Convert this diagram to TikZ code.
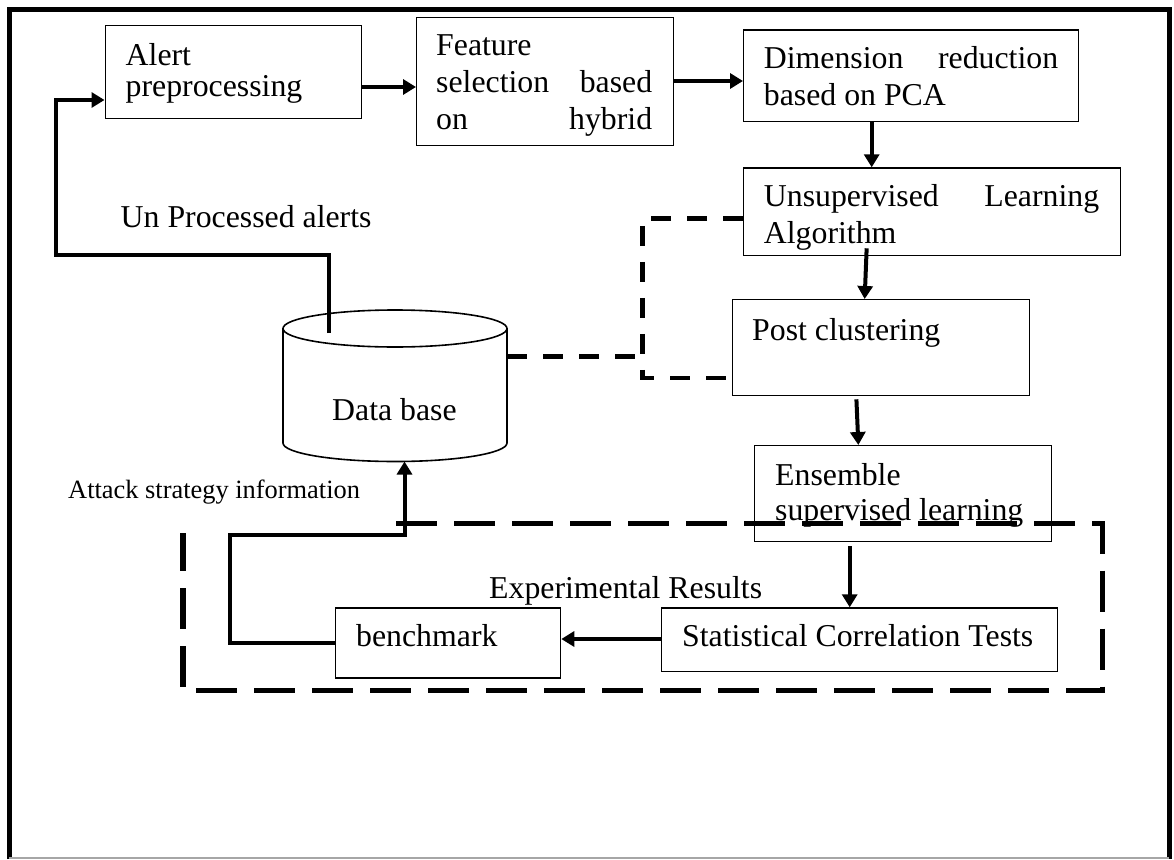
\documentclass[tikz,border=0pt]{standalone}
\usepackage{fontspec}
\setmainfont{Liberation Serif}
\usetikzlibrary{arrows.meta,calc}
\begin{document}
\begin{tikzpicture}[x=1pt,y=-1pt,
  box/.style={draw,line width=1.3pt,rectangle,inner sep=0pt,anchor=north west},
  txt/.style={inner sep=0pt,anchor=base west,font=\fontsize{31.8pt}{36pt}\selectfont},
  smalltxt/.style={inner sep=0pt,anchor=base west,font=\fontsize{26.4pt}{30pt}\selectfont},
  conn/.style={line width=4pt,-{Triangle[length=13pt,width=15pt]}},
  plainconn/.style={line width=4pt},
  smalldash/.style={line width=4.5pt,dash pattern=on 20pt off 16pt},
  bigdash/.style={line width=5.5pt,dash pattern=on 41pt off 17pt}]
\useasboundingbox (0,0) rectangle (1174,859);
\fill[white] (0,0) rectangle (1174,859);
% frame
\draw[line width=5pt] (9,859) -- (9,10) -- (1169,10) -- (1169,859);
\draw[gray!70,line width=1.2pt] (9,858) -- (1169,858);
% boxes
\node[box,minimum width=256.5pt,minimum height=93pt] (alert) at (104.5,25) {};
\node[box,minimum width=256.8pt,minimum height=128.3pt] (feat) at (416,16.7) {};
\node[box,minimum width=335pt,minimum height=91.4pt] (dim) at (743,29.3) {};
\node[box,minimum width=377pt,minimum height=87.7pt] (unsup) at (743,167.3) {};
\node[box,minimum width=297.5pt,minimum height=96pt] (post) at (731.5,299) {};
\node[box,minimum width=297pt,minimum height=96pt] (ens) at (754,445) {};
\node[box,minimum width=395.5pt,minimum height=63.4pt] (stat) at (661,607.3) {};
\node[box,minimum width=225pt,minimum height=70pt] (bench) at (335,607.3) {};
% database cylinder
\draw[line width=1.6pt,fill=white] (283,328.5) -- (283,443) arc (180:360:112pt and 18.5pt) -- (507,328.5);
\draw[line width=1.6pt] (395,328.5) ellipse (112pt and 18.5pt);
\coordinate (dbin) at (329,333);
\coordinate (dbbot) at (404.5,461.5);
\coordinate (dbr) at (507,356.7);
% texts
\node[txt] (tA1) at (125.5,65) {Alert};
\node[txt] (tA2) at (125.5,96.7) {preprocessing};
\node[txt] (tF1) at (436,56) {Feature};
\node[txt] (tF2) at (436,92.7) {\makebox[216pt][s]{selection based}};
\node[txt] (tF3) at (436,129) {\makebox[216pt][s]{on hybrid}};
\node[txt] (tD1) at (763.7,68) {\makebox[294.3pt][s]{Dimension reduction}};
\node[txt] (tD2) at (763.7,105) {based on PCA};
\node[txt] (tU1) at (763.7,206.7) {\makebox[335.3pt][s]{Unsupervised Learning}};
\node[txt] (tU2) at (763.7,243) {Algorithm};
\node[txt] (tP) at (752,340) {Post clustering};
\node[txt] (tE1) at (775,485) {Ensemble};
\node[txt] (tE2) at (775,520) {supervised learning};
\node[txt] (tS) at (682,646.7) {Statistical Correlation Tests};
\node[txt] (tB) at (356,646.7) {benchmark};
\node[txt] (tUn) at (120.5,227) {Un Processed alerts};
\node[txt] (tDB) at (332,420) {Data base};
\node[smalltxt] (tAtt) at (68,498.3) {Attack strategy information};
\node[txt] (tEx) at (489,598) {Experimental Results};
% connectors
\coordinate (a1) at (55.5,255);
\draw[conn] (dbin) |- (a1) |- (alert.west |- 0,100);
\draw[conn] (alert.east |- 0,87) -- (feat.west |- 0,87);
\draw[conn] (feat.east |- 0,81) -- (dim.west |- 0,81);
\draw[conn] (dim.south -| 871.7,0) -- (unsup.north -| 871.7,0);
\draw[conn] ($(unsup.south)+(-65.5,-8)$) -- ($(post.north)+(-16.25,0)$);
\draw[conn] ($(post.south)+(-24.5,3)$) -- ($(ens.north)+(-44.8,0)$);
\draw[conn] ($(ens.south -| 849.7,0)+(0,4)$) -- (stat.north -| 849.7,0);
\draw[conn] (stat.west |- 0,639) -- (bench.east |- 0,639);
\coordinate (b1) at (229.6,535);
\draw[conn] (bench.west |- 0,643.3) -| (b1) -| (dbbot);
% dashed links
\coordinate (d1) at (642.5,378);
\draw[smalldash] (unsup.west |- 0,218.3) -| (d1) -- (post.west |- d1);
\draw[smalldash] (dbr) -- (dbr -| d1);
% experimental results region
\draw[bigdash] (396,523.3) -- (1102.7,523.3) -- (1102.7,690.7) -- (183,690.7) -- (183,533);
\end{tikzpicture}
\end{document}
